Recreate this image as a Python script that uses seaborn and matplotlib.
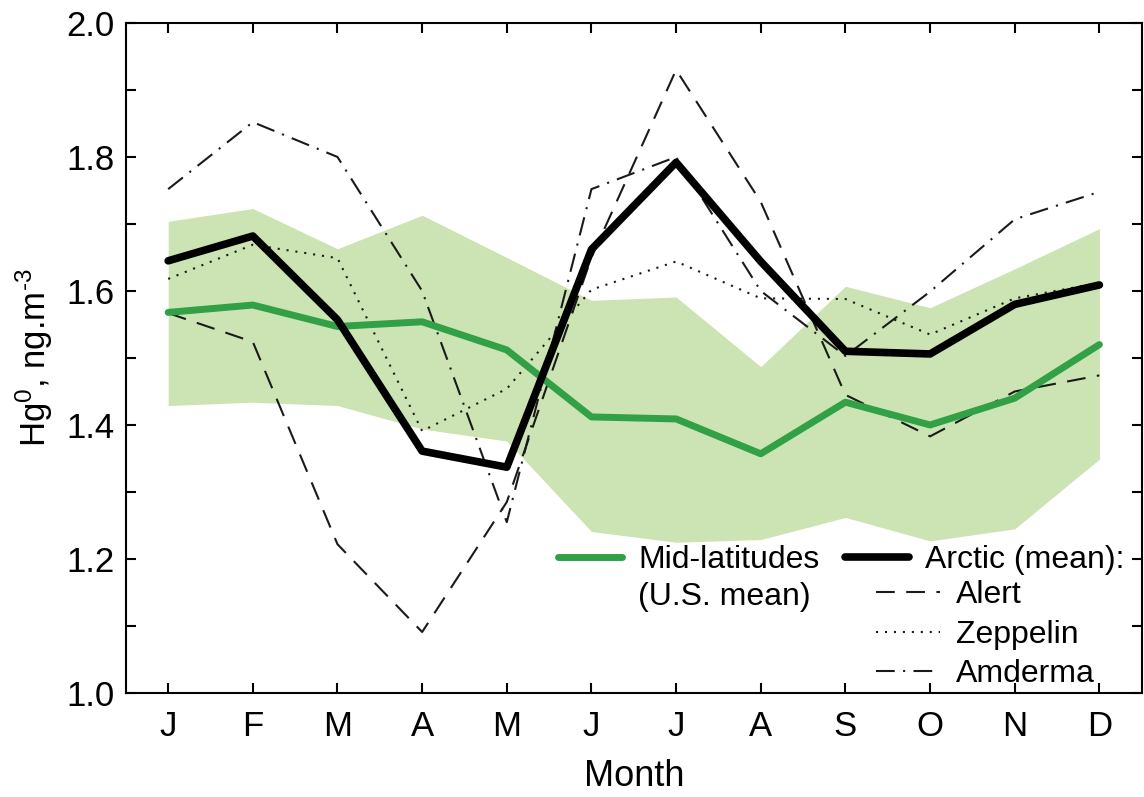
import numpy as np
import pandas as pd
import seaborn as sns
import matplotlib.pyplot as plt
from matplotlib.ticker import MultipleLocator, FormatStrFormatter
from matplotlib.lines import Line2D

# monthly Hg0 values
months = ["J", "F", "M", "A", "M", "J", "J", "A", "S", "O", "N", "D"]
month_num = np.arange(1, 13)

midlat_mean = [1.568, 1.579, 1.547, 1.554, 1.512, 1.412, 1.409, 1.357, 1.434, 1.400, 1.440, 1.520]
midlat_upper = [1.704, 1.723, 1.663, 1.713, 1.650, 1.586, 1.591, 1.487, 1.607, 1.575, 1.633, 1.693]
midlat_lower = [1.429, 1.434, 1.429, 1.394, 1.376, 1.241, 1.225, 1.229, 1.262, 1.227, 1.245, 1.349]

arctic_mean = [1.645, 1.682, 1.557, 1.361, 1.337, 1.662, 1.792, 1.644, 1.510, 1.506, 1.580, 1.609]
alert = [1.567, 1.524, 1.222, 1.091, 1.285, 1.650, 1.930, 1.733, 1.445, 1.383, 1.450, 1.474]
zeppelin = [1.618, 1.669, 1.649, 1.391, 1.454, 1.602, 1.644, 1.589, 1.588, 1.535, 1.589, 1.612]
amderma = [1.752, 1.852, 1.800, 1.600, 1.255, 1.752, 1.800, 1.600, 1.503, 1.599, 1.707, 1.748]

df = pd.DataFrame({
    "month": month_num,
    "midlat": midlat_mean,
    "arctic": arctic_mean,
    "Alert": alert,
    "Zeppelin": zeppelin,
    "Amderma": amderma,
})

sns.set_theme(style="ticks")
plt.rcParams["font.family"] = ["Liberation Sans", "DejaVu Sans"]
plt.rcParams["mathtext.fontset"] = "custom"
plt.rcParams["mathtext.rm"] = "Liberation Sans"
plt.rcParams["mathtext.it"] = "Liberation Sans:italic"
plt.rcParams["text.color"] = "black"
plt.rcParams["axes.labelcolor"] = "black"

fig = plt.figure(figsize=(11.44, 7.97), dpi=100)
ax = fig.add_axes([0.110, 0.1305, 0.888, 0.8407])

green = "#31a047"
band = "#cce4b3"
thin = "#1a1a1a"

ax.fill_between(month_num, midlat_lower, midlat_upper, color=band, lw=0, zorder=1)

sns.lineplot(data=df, x="month", y="Alert", ax=ax, color=thin, lw=1.5,
             linestyle=(0, (9, 5.5)), zorder=2)
sns.lineplot(data=df, x="month", y="Zeppelin", ax=ax, color=thin, lw=1.5,
             linestyle=(0, (1, 3.3)), zorder=2)
sns.lineplot(data=df, x="month", y="Amderma", ax=ax, color=thin, lw=1.5,
             linestyle=(0, (9, 4, 1, 4)), zorder=2)
sns.lineplot(data=df, x="month", y="midlat", ax=ax, color=green, lw=5, zorder=3)
sns.lineplot(data=df, x="month", y="arctic", ax=ax, color="black", lw=5.5, zorder=4)

ax.set_xlim(0.5, 12.5)
ax.set_ylim(1.0, 2.0)
ax.set_xticks(month_num)
ax.set_xticklabels(months)
ax.yaxis.set_major_locator(MultipleLocator(0.2))
ax.yaxis.set_minor_locator(MultipleLocator(0.1))
ax.yaxis.set_major_formatter(FormatStrFormatter("%.1f"))
ax.tick_params(axis="both", which="both", direction="in", top=True, right=True,
               length=7, width=1.5, labelsize=25, colors="black")
ax.tick_params(axis="x", pad=12)
ax.tick_params(axis="y", pad=8)
for s in ax.spines.values():
    s.set_linewidth(1.5)
    s.set_color("black")

ax.set_xlabel("Month", fontsize=26, labelpad=12)
ax.set_ylabel(r"Hg$^{0}$, ng.m$^{\text{-}3}$", fontsize=25, labelpad=8)

# legend: mid-latitudes + arctic mean
h1 = [Line2D([], [], color=green, lw=5),
      Line2D([], [], color="none", lw=0),
      Line2D([], [], color="black", lw=5.5)]
l1 = ["Mid-latitudes", "(U.S. mean)", "Arctic (mean):"]
leg1 = ax.legend(h1, l1, ncol=2, loc="upper left", bbox_to_anchor=(0.488, 0.316),
                 bbox_transform=fig.transFigure, frameon=False, fontsize=23,
                 handlelength=2.0, handletextpad=0.5, columnspacing=0.8,
                 labelspacing=0.2, borderpad=0, borderaxespad=0)
ax.add_artist(leg1)

h2 = [Line2D([], [], color=thin, lw=1.5, ls=(0, (9, 5.5))),
      Line2D([], [], color=thin, lw=1.5, ls=(0, (1, 3.3))),
      Line2D([], [], color=thin, lw=1.5, ls=(0, (9, 4, 1, 4)))]
l2 = ["Alert", "Zeppelin", "Amderma"]
ax.legend(h2, l2, loc="upper left", bbox_to_anchor=(0.766, 0.272),
          bbox_transform=fig.transFigure, frameon=False, fontsize=23,
          handlelength=2.0, handletextpad=0.5, labelspacing=0.3,
          borderpad=0, borderaxespad=0)

fig.savefig("out.png", dpi=100)
